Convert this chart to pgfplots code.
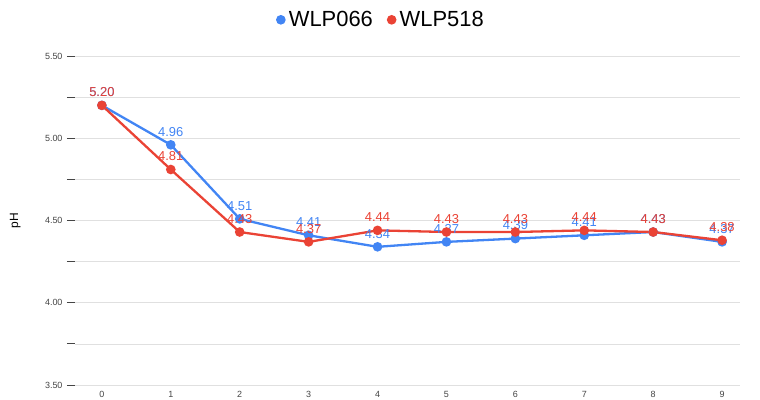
\documentclass[border=0pt]{standalone}
\usepackage{pgfplots}
\pgfplotsset{compat=1.18}
\usepackage{fontspec}
\setmainfont{Liberation Sans}
\definecolor{gblue}{HTML}{4285F4}
\definecolor{gred}{HTML}{EA4335}
\definecolor{gridc}{HTML}{E0E0E0}
\definecolor{tickc}{HTML}{444444}
\begin{document}
\begin{tikzpicture}[x=1bp,y=1bp]
\useasboundingbox (-75bp,-15bp) rectangle (685bp,385bp);
\begin{axis}[
  at={(0,0)}, anchor=south west,
  scale only axis, width=665bp, height=329bp,
  xmin=-0.39, xmax=9.26, ymin=3.5, ymax=5.5,
  xtick={0,...,9}, ytick={3.5,4,4.5,5,5.5},
  minor ytick={3.75,4.25,4.75,5.25},
  ymajorgrids, yminorgrids,
  major grid style={gridc, line width=0.7pt},
  minor grid style={gridc, line width=0.7pt},
  axis line style={draw=none},
  x tick style={draw=none},
  y tick style={draw=tickc, line width=0.8pt},
  ytick pos=left,
  tick align=outside,
  major tick length=8bp, minor tick length=8bp,
  yticklabel style={font=\fontsize{9}{10}\selectfont, text=tickc, xshift=-1bp},
  xticklabel style={font=\fontsize{9}{10}\selectfont, text=tickc, anchor=center, yshift=-1bp},
  /pgf/number format/assume math mode=true,
  y tick label style={/pgf/number format/.cd, fixed, fixed zerofill, precision=2},
  ylabel={pH},
  ylabel style={font=\fontsize{12}{13}\selectfont, text=black, at={(axis description cs:-0.09,0.5)}, anchor=center},
  legend style={at={(axis description cs:0.46,1.11)}, anchor=center, draw=none, fill=none,
    legend columns=2, font=\fontsize{22}{24}\selectfont,
    /tikz/every even column/.append style={column sep=12bp}},
  legend image code/.code={\fill[#1] (0bp,0bp) circle (3.6bp); \path[draw=none,fill=none] (-4bp,0bp) -- (6bp,0bp);},
  nodes near coords,
  every node near coord/.append style={font=\fontsize{13}{14}\selectfont, yshift=4bp},
  point meta=explicit,
  clip=false,
]
\addplot[gblue, line width=2.3bp, mark=*, mark size=3.6bp, mark options={fill=gblue, draw=gblue},
  every node near coord/.append style={text=gblue},
  nodes near coords={\pgfmathprintnumber[fixed,fixed zerofill,precision=2]{\pgfplotspointmeta}}]
  coordinates {(0,5.20)[5.20] (1,4.96)[4.96] (2,4.51)[4.51] (3,4.41)[4.41] (4,4.34)[4.34] (5,4.37)[4.37] (6,4.39)[4.39] (7,4.41)[4.41] (8,4.43)[4.43] (9,4.37)[4.37]};
\addlegendentry{WLP066}
\addplot[gred, line width=2.3bp, mark=*, mark size=3.6bp, mark options={fill=gred, draw=gred},
  every node near coord/.append style={text=gred},
  nodes near coords={\pgfmathprintnumber[fixed,fixed zerofill,precision=2]{\pgfplotspointmeta}}]
  coordinates {(0,5.20)[5.20] (1,4.81)[4.81] (2,4.43)[4.43] (3,4.37)[4.37] (4,4.44)[4.44] (5,4.43)[4.43] (6,4.43)[4.43] (7,4.44)[4.44] (8,4.43)[4.43] (9,4.38)[4.38]};
\addlegendentry{WLP518}
\end{axis}
\end{tikzpicture}
\end{document}
